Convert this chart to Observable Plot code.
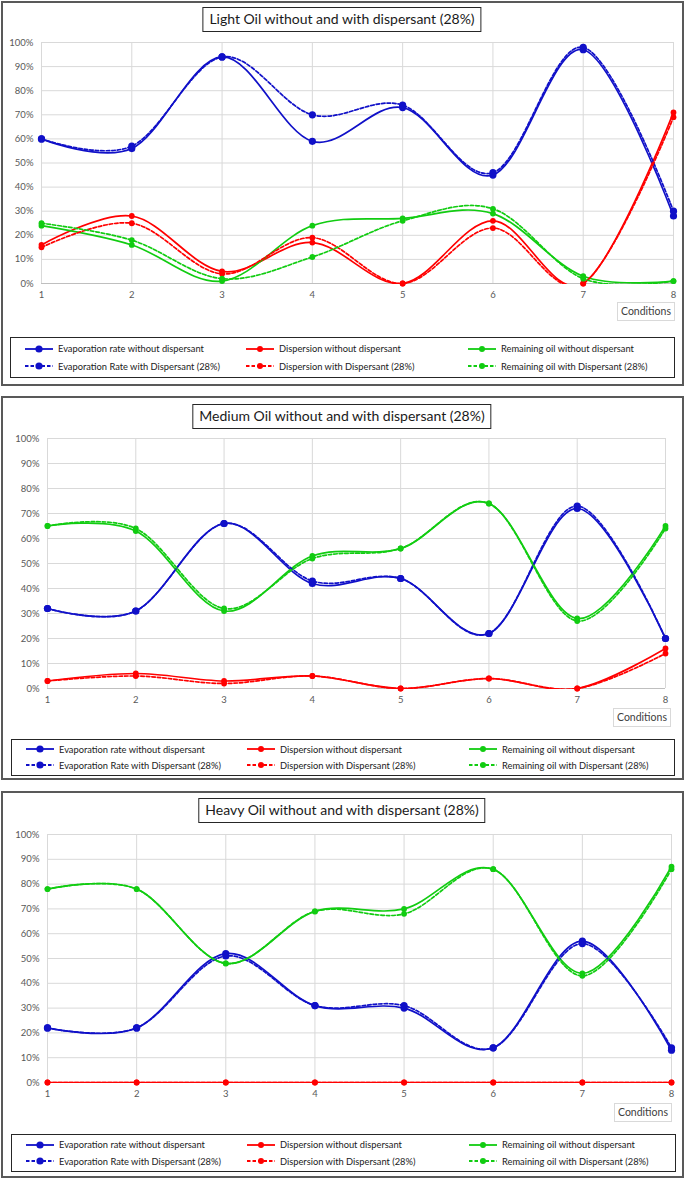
<!DOCTYPE html>
<html>
<head>
<meta charset="utf-8">
<script src="https://cdn.jsdelivr.net/npm/d3@7"></script>
<script src="https://cdn.jsdelivr.net/npm/@observablehq/plot@0.6"></script>
<style>
  body { margin: 0; background: #fff; font-family: Lato, "Open Sans", sans-serif; }
  #root { position: relative; width: 685px; height: 1179px; overflow: hidden; }
  .panel { position: absolute; left: 1px; width: 683px; border: 2px solid #595959; box-sizing: border-box; }
  .title { position: absolute; border: 1px solid #262626; background: #fff; font-size: 14px; color: #1a1a1a;
           white-space: nowrap; padding: 2px 6px 3px 6px; line-height: 18px; transform: translateX(-50%); }
  .cond { position: absolute; border: 1px solid #d9d9d9; background: #fff; font-size: 10.5px; color: #404040;
          padding: 2px 3px; line-height: 13px; white-space: nowrap; }
  .legend { position: absolute; border: 1.5px solid #262626; box-sizing: border-box; background: #fff; }
  .litem { position: absolute; display: flex; align-items: center; font-size: 9.3px; color: #1a1a1a; white-space: nowrap; }
  .litem svg { margin-right: 5px; }
  svg.plot { position: absolute; left: 0; }
</style>
</head>
<body>
<div id="root"></div>
<script>
// ---------- data ----------
const conditions = [1, 2, 3, 4, 5, 6, 7, 8];
const yTicks = [0, 10, 20, 30, 40, 50, 60, 70, 80, 90, 100];

const seriesNames = [
  "Evaporation rate without dispersant",
  "Dispersion without dispersant",
  "Remaining oil without dispersant",
  "Evaporation Rate with Dispersant (28%)",
  "Dispersion with Dispersant (28%)",
  "Remaining oil with Dispersant (28%)"
];
const seriesColors = ["#1010c8", "#ff0000", "#11cc11", "#1010c8", "#ff0000", "#11cc11"];
const seriesDashed = [false, false, false, true, true, true];

const titles = [
  "Light Oil without and with dispersant (28%)",
  "Medium Oil without and with dispersant (28%)",
  "Heavy Oil without and with dispersant (28%)"
];
const xAxisLabel = "Conditions";

// Light oil
const lightEvapWithout = [60, 56, 94, 59, 73, 45, 97, 28];
const lightDispWithout = [16, 28, 5, 17, 0, 26, 0, 71];
const lightRemWithout  = [24, 16, 1, 24, 27, 29, 3, 1];
const lightEvapWith    = [60, 57, 94, 70, 74, 46, 98, 30];
const lightDispWith    = [15, 25, 4, 19, 0, 23, 0, 69];
const lightRemWith     = [25, 18, 2, 11, 26, 31, 2, 1];

// Medium oil
const mediumEvapWithout = [32, 31, 66, 42, 44, 22, 72, 20];
const mediumDispWithout = [3, 6, 3, 5, 0, 4, 0, 16];
const mediumRemWithout  = [65, 63, 31, 53, 56, 74, 28, 65];
const mediumEvapWith    = [32, 31, 66, 43, 44, 22, 73, 20];
const mediumDispWith    = [3, 5, 2, 5, 0, 4, 0, 14];
const mediumRemWith     = [65, 64, 32, 52, 56, 74, 27, 64];

// Heavy oil
const heavyEvapWithout = [22, 22, 52, 31, 30, 14, 57, 13];
const heavyDispWithout = [0, 0, 0, 0, 0, 0, 0, 0];
const heavyRemWithout  = [78, 78, 48, 69, 70, 86, 44, 87];
const heavyEvapWith    = [22, 22, 51, 31, 31, 14, 56, 14];
const heavyDispWith    = [0, 0, 0, 0, 0, 0, 0, 0];
const heavyRemWith     = [78, 78, 48, 69, 68, 86, 43, 86];

const panelSeries = [
  [lightEvapWithout, lightDispWithout, lightRemWithout, lightEvapWith, lightDispWith, lightRemWith],
  [mediumEvapWithout, mediumDispWithout, mediumRemWithout, mediumEvapWith, mediumDispWith, mediumRemWith],
  [heavyEvapWithout, heavyDispWithout, heavyRemWithout, heavyEvapWith, heavyDispWith, heavyRemWith]
];

// ---------- layout ----------
const layouts = [
  { box: [1, 385], titleTop: 7, plotL: 41, plotR: 673, plotT: 42, plotB: 283, cond: [617, 302], legend: [10, 337, 665, 41] },
  { box: [396, 384], titleTop: 404, plotL: 47, plotR: 665, plotT: 438, plotB: 688, cond: [613, 708], legend: [11, 739, 664, 37] },
  { box: [791, 387], titleTop: 798, plotL: 47, plotR: 671, plotT: 834, plotB: 1082, cond: [614, 1103], legend: [11, 1134, 665, 38] }
];

const root = document.getElementById("root");

function el(tag, cls, parent) {
  const e = document.createElement(tag);
  if (cls) e.className = cls;
  (parent || root).appendChild(e);
  return e;
}

function swatch(color, dashed, big) {
  const ns = "http://www.w3.org/2000/svg";
  const s = document.createElementNS(ns, "svg");
  s.setAttribute("width", 28); s.setAttribute("height", 10);
  const l = document.createElementNS(ns, "line");
  l.setAttribute("x1", 0); l.setAttribute("x2", 28); l.setAttribute("y1", 5); l.setAttribute("y2", 5);
  l.setAttribute("stroke", color); l.setAttribute("stroke-width", 1.8);
  if (dashed) l.setAttribute("stroke-dasharray", "3.5,2");
  const c = document.createElementNS(ns, "circle");
  c.setAttribute("cx", 14); c.setAttribute("cy", 5); c.setAttribute("r", big ? 3.6 : 3);
  c.setAttribute("fill", color);
  s.appendChild(l); s.appendChild(c);
  return s;
}

layouts.forEach((L, p) => {
  const panel = el("div", "panel");
  panel.style.top = L.box[0] + "px";
  panel.style.height = L.box[1] + "px";

  const t = el("div", "title");
  t.textContent = titles[p];
  t.style.left = "342px";
  t.style.top = L.titleTop + "px";

  // tidy rows
  const rows = [];
  panelSeries[p].forEach((vals, si) => {
    vals.forEach((v, i) => rows.push({ series: si, cond: conditions[i], value: v }));
  });

  const mt = 10, mb = 26;
  const plotH = L.plotB - L.plotT;
  const marks = [
    Plot.ruleX(conditions, { stroke: "#d9d9d9", strokeWidth: 1 }),
    Plot.ruleY(yTicks, { stroke: "#d9d9d9", strokeWidth: 1 }),
    Plot.ruleY([0], { stroke: "#bfbfbf", strokeWidth: 1.2 })
  ];
  [0, 1, 2, 3, 4, 5].forEach(si => {
    marks.push(Plot.line(rows.filter(r => r.series === si), {
      x: "cond", y: "value", stroke: seriesColors[si], strokeWidth: 1.7,
      strokeDasharray: seriesDashed[si] ? "3.5,2" : null,
      curve: "cardinal", tension: 0, clip: true
    }));
  });
  [0, 1, 2, 3, 4, 5].forEach(si => {
    marks.push(Plot.dot(rows.filter(r => r.series === si), {
      x: "cond", y: "value", fill: seriesColors[si], stroke: "none",
      r: (si % 3 === 0) ? 3.6 : 2.9
    }));
  });

  const chart = Plot.plot({
    width: 685,
    height: plotH + mt + mb,
    marginLeft: L.plotL,
    marginRight: 685 - L.plotR,
    marginTop: mt,
    marginBottom: mb,
    style: { fontFamily: "Lato, 'Open Sans', sans-serif", fontSize: "9.5px", color: "#595959", background: "transparent", overflow: "visible" },
    x: { type: "linear", domain: [1, 8], ticks: conditions, tickFormat: d => String(d), tickSize: 0, tickPadding: 8, label: null },
    y: { domain: [0, 100], ticks: yTicks, tickFormat: d => d + "%", tickSize: 0, tickPadding: 8, label: null },
    marks
  });
  // let the clip region include the full stroke width of lines lying on the 0% axis
  chart.querySelectorAll("clipPath rect").forEach(r => {
    const h = parseFloat(r.getAttribute("height"));
    const y = parseFloat(r.getAttribute("y"));
    r.setAttribute("y", y - 1);
    r.setAttribute("height", h + 2);
  });
  chart.classList.add("plot");
  chart.style.top = (L.plotT - mt) + "px";
  root.appendChild(chart);

  const c = el("div", "cond");
  c.textContent = xAxisLabel;
  c.style.left = L.cond[0] + "px";
  c.style.top = L.cond[1] + "px";

  const lg = el("div", "legend");
  lg.style.left = L.legend[0] + "px";
  lg.style.top = L.legend[1] + "px";
  lg.style.width = L.legend[2] + "px";
  lg.style.height = L.legend[3] + "px";
  const colX = [14, 235, 457];
  const rowH = L.legend[3];
  seriesNames.forEach((name, si) => {
    const item = el("div", "litem", lg);
    const col = si % 3, row = Math.floor(si / 3);
    item.style.left = colX[col] + "px";
    item.style.top = (row === 0 ? rowH * 0.27 : rowH * 0.70) - 6 + "px";
    item.appendChild(swatch(seriesColors[si], seriesDashed[si], col === 0));
    const sp = document.createElement("span");
    sp.textContent = name;
    item.appendChild(sp);
  });
});
</script>
</body>
</html>
